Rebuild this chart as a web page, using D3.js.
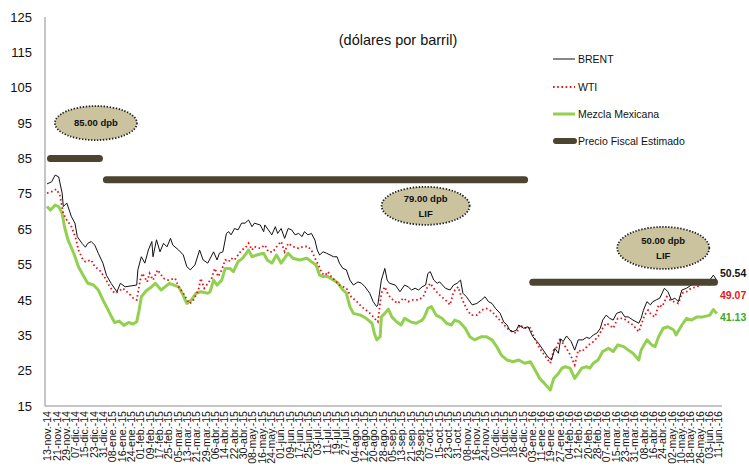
<!DOCTYPE html>
<html><head><meta charset="utf-8">
<script src="https://cdn.jsdelivr.net/npm/d3@7"></script>
<style>
body{margin:0;background:#fff;}
svg{display:block;font-family:"Liberation Sans",Arial,sans-serif;}
</style></head>
<body><svg id="c" width="749" height="467"></svg>
<script>
const startDate = "2014-11-13";
const endTickDate = "2016-06-11";
const yTicks = [15,25,35,45,55,65,75,85,95,105,115,125];
const monthsEs = ["ene","feb","mar","abr","may","jun","jul","ago","sep","oct","nov","dic"];

// [days since startDate, value]
const brent = [[0,77.8],[4,78.4],[7,80.3],[10,79.8],[13,75.2],[14,71.4],[17,72.4],[21,68.5],[24,66.7],[26,62.9],[30,61],[33,59.9],[35,61],[38,61.5],[41,60.5],[44,58.2],[48,55.4],[51,52],[55,49.7],[60,47.3],[63,49.7],[67,48.7],[73,49],[77,49.2],[78,53.5],[81,57.2],[84,55.4],[87,59.1],[90,61.5],[91,57.2],[94,62],[97,58.6],[100,61],[103,60],[106,62.4],[108,60.5],[113,59.1],[117,57.7],[120,54.4],[123,53.5],[127,54.9],[131,59.1],[134,56.3],[138,55.4],[143,58.6],[146,56.3],[148,58.2],[151,58.6],[154,63.8],[156,64.3],[158,63.4],[161,65.2],[164,64.8],[167,66.7],[170,66.7],[173,67.6],[176,65.7],[178,66.7],[183,66.2],[186,64.3],[187,66.2],[190,64.8],[193,63.4],[196,65.7],[198,63.8],[201,65.2],[204,62.4],[207,65.2],[210,64.8],[213,63.4],[216,63.8],[219,62.9],[221,64.3],[224,63.4],[227,63.8],[230,61.9],[232,59.1],[234,57.7],[237,58.6],[240,58.2],[243,57.7],[246,57.2],[249,57.2],[251,55.4],[254,53.9],[257,53.5],[260,50.6],[263,49.2],[267,50.1],[270,49.7],[273,48.7],[277,46.9],[280,44.5],[283,43.1],[284,43.6],[287,50.6],[290,53.9],[292,50.6],[294,49.7],[299,49.2],[303,47.3],[307,49.2],[310,48.7],[313,47.8],[316,48.3],[319,47.8],[322,48.7],[325,49.2],[327,52.5],[329,53],[332,50.6],[335,49.7],[337,50.1],[342,48.3],[346,47.8],[349,49.2],[352,49.7],[355,50.6],[357,46.9],[360,45.9],[365,43.6],[369,44],[373,45],[376,45.9],[379,44.5],[382,44],[385,42.6],[389,41.2],[392,38.8],[395,37.9],[397,36.5],[400,36],[403,36.5],[405,37.9],[409,37],[413,37.4],[417,34.6],[422,32.7],[426,30.8],[430,28.9],[433,28],[436,31.3],[439,29.9],[441,34],[443,33.2],[446,34.8],[450,33.2],[453,30.8],[456,33.7],[460,33.7],[463,34.4],[466,34.1],[469,35.1],[472,35.6],[475,37],[477,39.3],[480,40.7],[483,39.8],[486,39.3],[489,41.2],[493,41.7],[496,40.2],[499,40.2],[503,39.3],[508,38.4],[510,39.8],[512,42.1],[515,44.5],[518,43.6],[520,44.5],[523,45],[526,45.5],[530,48.3],[533,47.3],[536,45],[539,45.5],[542,44.5],[545,47.8],[549,48.3],[553,49.2],[559,49.7],[565,49.9],[569,50.6],[572,52],[575,50.54]];

const wti = [[0,75.2],[4,75.6],[8,76.3],[11,74.7],[14,69.5],[17,67.6],[21,65.7],[25,62],[27,59.1],[31,56.3],[33,55.8],[38,56.3],[41,54.4],[45,53.5],[50,51.1],[54,48.7],[58,46.9],[61,47.3],[65,48.3],[70,46.9],[74,45.5],[77,45],[80,50.6],[82,52.5],[86,50.1],[88,52.5],[91,50.6],[95,53.5],[100,51.1],[104,50.6],[110,51.1],[113,48.7],[117,46.9],[122,44],[125,44.5],[130,47.8],[132,51.1],[135,48.3],[139,50.1],[141,50.8],[144,53.9],[147,51.6],[150,53.5],[153,56.3],[156,55.8],[158,56.8],[161,56.3],[164,57.7],[167,59.1],[170,59.6],[173,61],[176,59.1],[178,60.1],[183,59.6],[187,60.5],[190,58.6],[194,58.6],[198,60.5],[201,61.5],[204,58.6],[207,61],[211,60.1],[216,59.6],[220,60.1],[224,60.1],[227,59.1],[230,56.8],[233,54.9],[236,52.5],[239,52],[241,53],[244,51.6],[247,50.6],[251,49.2],[257,48.3],[261,45.9],[266,44.5],[270,43.1],[274,42.1],[279,40.7],[281,39.8],[284,38.8],[287,46.9],[290,48.7],[293,46.4],[297,45],[301,44],[306,45.5],[310,44.5],[314,45],[319,45],[323,45.9],[326,48.3],[329,49.7],[333,47.8],[337,46.4],[342,45],[346,43.6],[349,47.3],[353,48.7],[356,45.5],[360,42.6],[364,40.7],[369,40.7],[373,42.1],[377,42.6],[382,41.7],[386,40.2],[390,38.8],[395,37],[399,36],[403,35.6],[406,37.9],[410,37],[415,37],[419,33.7],[423,31.3],[427,29.4],[432,27.1],[435,30.8],[437,31.3],[440,33.7],[443,32.7],[446,31.3],[450,28.9],[453,26.6],[456,30.8],[459,30.4],[462,31.3],[465,32.3],[469,33.2],[473,34.6],[477,37],[480,38.4],[483,37.9],[486,37],[490,39.8],[495,39.8],[499,38.8],[503,37.9],[508,36],[510,37.9],[513,40.7],[516,42.1],[519,40.7],[522,40.2],[525,43.6],[528,43.1],[532,45.9],[535,45],[538,44.5],[542,44],[545,46.9],[549,47.3],[553,48.3],[558,48.7],[563,49.7],[568,49.2],[571,50.3],[575,49.07]];

const mezcla = [[0,71.4],[3,70.4],[7,71.8],[10,71.4],[13,69.5],[15,65.7],[18,62],[23,58.2],[27,54.4],[31,52],[35,49.7],[40,49.2],[44,47.8],[48,45],[51,43.1],[55,40.5],[58,38.6],[62,39],[66,37.8],[70,38.6],[74,38.2],[77,38.8],[79,42],[81,45.9],[85,47.5],[89,48.5],[93,49.7],[98,47.8],[105,49.7],[113,48.7],[116,46.9],[120,44],[124,45],[128,46.9],[132,47.3],[138,46.9],[140,47.3],[143,50.6],[146,49.2],[150,50.6],[153,53.9],[157,53.9],[160,53],[164,55.8],[168,56.8],[173,59.1],[176,57.2],[180,57.7],[186,58.2],[189,56.3],[193,55.4],[197,57.7],[201,55.4],[207,58.2],[211,56.8],[217,56.3],[223,56.8],[227,55.8],[231,54.9],[234,52],[237,51.6],[241,51.6],[246,50.6],[250,49.7],[254,47.8],[257,46.9],[260,43.1],[263,41.2],[269,40.7],[274,39.8],[279,38.4],[281,35.6],[283,33.7],[286,34.6],[287,40.2],[290,41.2],[293,42.4],[296,40.2],[300,38.8],[304,37.9],[307,39.8],[312,38.8],[317,38.4],[322,39.3],[324,40.2],[327,42.6],[330,43.1],[334,40.7],[339,39.8],[343,38.4],[347,37.9],[350,39.3],[354,38.8],[359,37],[363,34.6],[367,33.7],[373,34.6],[377,34.6],[382,33.7],[386,31.8],[390,29.4],[395,28],[400,27.5],[405,28],[410,27.1],[415,27.5],[419,25.2],[423,22.8],[427,21.4],[432,19.5],[435,22.8],[439,24.2],[442,25.7],[445,26.1],[449,25.7],[453,22.8],[456,24.2],[459,25.7],[463,26.1],[466,25.7],[469,27.1],[473,28],[477,30.4],[482,31.3],[486,30.4],[490,32.3],[495,31.8],[499,30.8],[503,29.9],[508,28],[510,30.8],[515,33.7],[519,32.3],[522,31.8],[525,34.6],[529,37],[533,37.4],[538,36.5],[540,35.1],[545,37.9],[549,39.8],[553,39.3],[558,40.2],[563,40.2],[569,40.7],[572,42.3],[575,41.13]];

const fiscalStart = ["2014-11-16","2015-01-03","2016-01-04"];
const fiscalEnd   = ["2014-12-28","2015-12-28","2016-06-08"];
const fiscalValue = [85,79,50];

const seriesNames = ["BRENT","WTI","Mezcla Mexicana","Precio Fiscal Estimado"];
const lastValues = [50.54,49.07,41.13];

const notes = [
  {date:"2014-12-25", value:95.0, lines:["85.00 dpb"]},
  {date:"2015-10-04", value:71.6, lines:["79.00 dpb","LIF"]},
  {date:"2016-04-25", value:59.7, lines:["50.00 dpb","LIF"]}
];

// ---------- drawing ----------
const svg = d3.select("#c");
const pLeft = 45, pRight = 722, pTop = 17, pBottom = 406;
const parse = d3.utcParse("%Y-%m-%d");
const t0 = parse(startDate);
const dayToDate = d => new Date(t0.getTime() + d*86400000);

const x = d3.scaleUtc().domain([t0, parse(endTickDate)]).range([47, 718]);
const y = d3.scaleLinear().domain([15,125]).range([pBottom, pTop]);

// axes
const yAxis = d3.axisLeft(y).tickValues(yTicks).tickSize(0).tickPadding(13);
const gy = svg.append("g").attr("transform",`translate(${pLeft},0)`).call(yAxis);
gy.select(".domain").remove();
gy.selectAll("text").attr("font-size",13).attr("fill","#111").attr("font-family","Liberation Sans, Arial, sans-serif");

svg.append("line").attr("x1",pLeft).attr("x2",pLeft).attr("y1",pTop).attr("y2",pBottom)
  .attr("stroke","#8c8c8c").attr("stroke-width",1);
svg.append("line").attr("x1",pLeft).attr("x2",pRight).attr("y1",pBottom).attr("y2",pBottom)
  .attr("stroke","#8c8c8c").attr("stroke-width",1);

const xTicks = d3.range(0, 577, 8).map(dayToDate);
const fmt = d => d3.utcFormat("%d")(d) + "-" + monthsEs[d.getUTCMonth()] + ".-" + d3.utcFormat("%y")(d);
const xAxis = d3.axisBottom(x).tickValues(xTicks).tickFormat(fmt).tickSize(0).tickPadding(0);
const gx = svg.append("g").attr("transform",`translate(0,${pBottom})`).call(xAxis);
gx.select(".domain").remove();
gx.selectAll("text")
  .attr("font-size",10.6).attr("fill","#111").attr("font-family","Liberation Sans, Arial, sans-serif")
  .attr("text-anchor","end")
  .attr("transform","rotate(-90)")
  .attr("x",-5).attr("y",0).attr("dy","0.35em");

// lines
const line = d3.line().x(d => x(dayToDate(d[0]))).y(d => y(d[1]));
svg.append("path").datum(mezcla).attr("d",line).attr("fill","none")
  .attr("stroke","#92d050").attr("stroke-width",3).attr("stroke-linejoin","round");
svg.append("path").datum(wti).attr("d",line).attr("fill","none")
  .attr("stroke","#e8141c").attr("stroke-width",1.8).attr("stroke-dasharray","1.6,2.6");
svg.append("path").datum(brent).attr("d",line).attr("fill","none")
  .attr("stroke","#111").attr("stroke-width",1);

// fiscal bars
fiscalValue.forEach((v,i) => {
  svg.append("line")
    .attr("x1", x(parse(fiscalStart[i]))).attr("x2", x(parse(fiscalEnd[i])))
    .attr("y1", y(v)).attr("y2", y(v))
    .attr("stroke","#4b4430").attr("stroke-width",7).attr("stroke-linecap","round");
});

// annotations
notes.forEach((n,i) => {
  const cx = x(parse(n.date)), cy = y(n.value);
  const rx = [41,44,46][i], ry = [17,19,21][i];
  svg.append("ellipse").attr("cx",cx).attr("cy",cy).attr("rx",rx).attr("ry",ry)
    .attr("fill","#cbc39e").attr("stroke","#222").attr("stroke-width",1.8)
    .attr("stroke-dasharray","1.4,1.6");
  n.lines.forEach((t,j) => {
    svg.append("text").attr("x",cx).attr("y", cy + (n.lines.length===1 ? 0 : (j===0?-7:8)))
      .attr("dy","0.35em").attr("text-anchor","middle")
      .attr("font-size",9.5).attr("font-weight","bold").attr("fill","#111").text(t);
  });
});

// title
svg.append("text").attr("x",398).attr("y",40).attr("dy","0.35em").attr("text-anchor","middle")
  .attr("font-size",14.5).attr("fill","#111").text("(dólares por barril)");

// legend
const lg = svg.append("g");
const legY = [59,87,114,141];
const legStyles = [
  {stroke:"#111", w:1, dash:null, cap:"butt"},
  {stroke:"#e8141c", w:1.8, dash:"1.6,2.6", cap:"butt"},
  {stroke:"#92d050", w:3, dash:null, cap:"butt"},
  {stroke:"#4b4430", w:6, dash:null, cap:"round"}
];
seriesNames.forEach((nm,i) => {
  const s = legStyles[i];
  const l = lg.append("line").attr("x1", i===3?556:553).attr("x2", i===3?574:575)
    .attr("y1",legY[i]).attr("y2",legY[i])
    .attr("stroke",s.stroke).attr("stroke-width",s.w).attr("stroke-linecap",s.cap);
  if (s.dash) l.attr("stroke-dasharray",s.dash);
  lg.append("text").attr("x",578).attr("y",legY[i]).attr("dy","0.35em")
    .attr("font-size",10.5).attr("fill","#111").text(nm);
});

// end labels
const endColors = ["#111","#e8141c","#3aa828"];
const endY = [273,295,317];
lastValues.forEach((v,i) => {
  svg.append("text").attr("x",720).attr("y",endY[i]).attr("dy","0.35em")
    .attr("font-size",10.5).attr("font-weight","bold").attr("fill",endColors[i])
    .text(v.toFixed(2));
});
</script>
</body></html>
